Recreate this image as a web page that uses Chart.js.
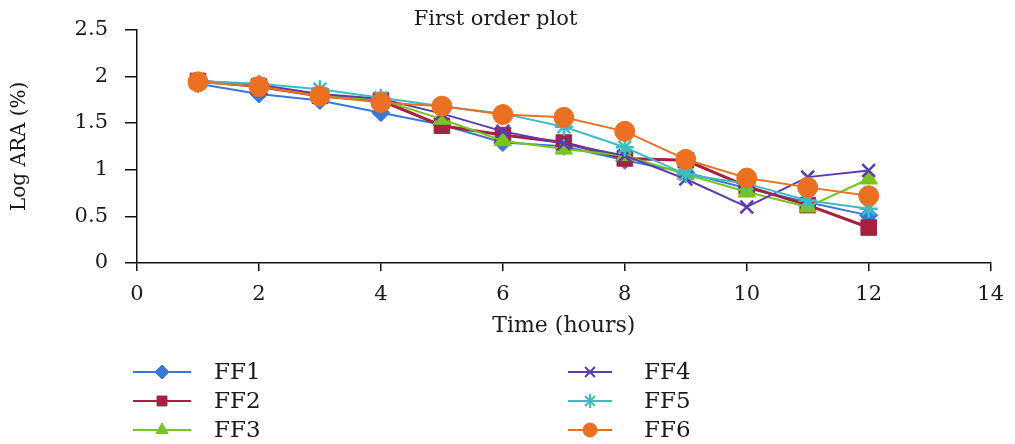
<!DOCTYPE html>
<html>
<head>
<meta charset="utf-8">
<script src="https://cdn.jsdelivr.net/npm/chart.js@4/dist/chart.umd.min.js"></script>
<style>
  html, body { margin: 0; padding: 0; background: #fff; }
  canvas { display: block; }
</style>
</head>
<body>
<canvas id="plot" width="1015" height="444"></canvas>
<script>
// --- données ---
const hours = [1, 2, 3, 4, 5, 6, 7, 8, 9, 10, 11, 12];
const ff1 = [1.92, 1.81, 1.74, 1.61, 1.48, 1.29, 1.25, 1.10, 0.97, 0.80, 0.65, 0.51];
const ff2 = [1.95, 1.89, 1.79, 1.74, 1.47, 1.37, 1.29, 1.12, 1.10, 0.82, 0.62, 0.38];
const ff3 = [1.94, 1.90, 1.79, 1.75, 1.54, 1.31, 1.22, 1.15, 0.95, 0.76, 0.60, 0.90];
const ff4 = [1.95, 1.91, 1.81, 1.76, 1.60, 1.41, 1.28, 1.15, 0.90, 0.60, 0.92, 0.99];
const ff5 = [1.95, 1.92, 1.86, 1.77, 1.68, 1.60, 1.46, 1.24, 0.95, 0.85, 0.67, 0.58];
const ff6 = [1.94, 1.89, 1.79, 1.72, 1.68, 1.59, 1.56, 1.41, 1.11, 0.91, 0.81, 0.72];
const seriesNames = ['FF1', 'FF2', 'FF3', 'FF4', 'FF5', 'FF6'];
const xTicks = [0, 2, 4, 6, 8, 10, 12, 14];
const yTicks = [0, 0.5, 1, 1.5, 2, 2.5];

const FONT = 'DejaVu Serif';
Chart.defaults.font.family = FONT;
Chart.defaults.color = '#1a1a1a';

const styles = [
    { color: '#3a78d8', pointStyle: 'rectRot', radius: 9, width: 2 },
    { color: '#a8203f', pointStyle: 'rect', radius: 11, width: 3 },
    { color: '#78c51e', pointStyle: 'triangle', radius: 10, width: 2 },
    { color: '#5a3cb0', pointStyle: 'crossRot', radius: 9, width: 2 },
    { color: '#3cbcc6', pointStyle: 'star', radius: 9, width: 2 },
    { color: '#ec7022', pointStyle: 'circle', radius: 10, width: 2 }
];

const allSeries = [ff1, ff2, ff3, ff4, ff5, ff6];

const datasets = allSeries.map((vals, i) => ({
    label: seriesNames[i],
    data: hours.map((h, j) => ({ x: h, y: vals[j] })),
    borderColor: styles[i].color,
    backgroundColor: styles[i].color,
    borderWidth: styles[i].width,
    pointStyle: styles[i].pointStyle,
    pointRadius: styles[i].radius,
    pointBorderWidth: (styles[i].pointStyle === 'crossRot' || styles[i].pointStyle === 'star') ? 2.5 : 1,
    pointBorderColor: styles[i].color,
    pointBackgroundColor: styles[i].color,
    tension: 0,
    order: 5 - i
}));

// légende sur deux colonnes, dessinée à la main sous le graphique
const legendPlugin = {
    id: 'twoColLegend',
    afterDraw(chart) {
        const ctx = chart.ctx;
        const drawPoint = Chart.helpers && Chart.helpers.drawPoint;
        const cols = [{ x0: 133, x1: 191, tx: 214 }, { x0: 568, x1: 612, tx: 644 }];
        const rows = [372, 401, 430];
        chart.data.datasets.forEach((ds, i) => {
            const c = cols[i < 3 ? 0 : 1];
            const y = rows[i % 3];
            ctx.save();
            ctx.strokeStyle = ds.borderColor;
            ctx.lineWidth = 2;
            ctx.beginPath();
            ctx.moveTo(c.x0, y);
            ctx.lineTo(c.x1, y);
            ctx.stroke();
            if (drawPoint) {
                ctx.fillStyle = ds.backgroundColor;
                ctx.strokeStyle = ds.borderColor;
                ctx.lineWidth = ds.pointStyle === 'crossRot' || ds.pointStyle === 'star' ? 2 : 1;
                drawPoint(ctx, { pointStyle: ds.pointStyle, radius: 7, rotation: 0, borderWidth: 1 }, (c.x0 + c.x1) / 2, y);
            }
            ctx.fillStyle = '#1a1a1a';
            ctx.font = '23px "' + FONT + '"';
            ctx.textBaseline = 'middle';
            ctx.textAlign = 'left';
            ctx.fillText(ds.label, c.tx, y + 1);
            ctx.restore();
        });
    }
};

new Chart(document.getElementById('plot'), {
    type: 'line',
    data: { datasets },
    options: {
        responsive: false,
        animation: false,
        layout: { padding: { left: 0, right: 24, top: 0, bottom: 99 } },
        plugins: {
            legend: { display: false },
            tooltip: { enabled: false },
            title: {
                display: true,
                text: 'First order plot',
                color: '#1a1a1a',
                font: { size: 21, weight: 'normal', lineHeight: 1 },
                padding: { top: 8, bottom: 0 }
            }
        },
        scales: {
            x: {
                type: 'linear',
                min: 0,
                max: 14,
                afterBuildTicks: s => { s.ticks = xTicks.map(v => ({ value: v })); },
                afterFit: s => { s.height = 82; },
                ticks: { font: { size: 21 }, padding: 11, color: '#1a1a1a' },
                grid: { drawOnChartArea: false, drawTicks: true, tickLength: 8, color: '#111', lineWidth: 1.5 },
                border: { color: '#111', width: 1.5 },
                title: { display: true, text: 'Time (hours)', font: { size: 22 }, color: '#1a1a1a', padding: { top: 0, bottom: 6 } }
            },
            y: {
                min: 0,
                max: 2.5,
                afterBuildTicks: s => { s.ticks = yTicks.map(v => ({ value: v })); },
                afterFit: s => { s.width = 137; },
                ticks: { font: { size: 21 }, padding: 17, color: '#1a1a1a', callback: v => String(v) },
                grid: { drawOnChartArea: false, drawTicks: true, tickLength: 12, color: '#111', lineWidth: 1.5 },
                border: { color: '#111', width: 1.5 },
                title: { display: true, text: 'Log ARA (%)', font: { size: 20 }, color: '#1a1a1a', padding: { top: 8, bottom: 0 } }
            }
        }
    },
    plugins: [legendPlugin]
});
</script>
</body>
</html>
